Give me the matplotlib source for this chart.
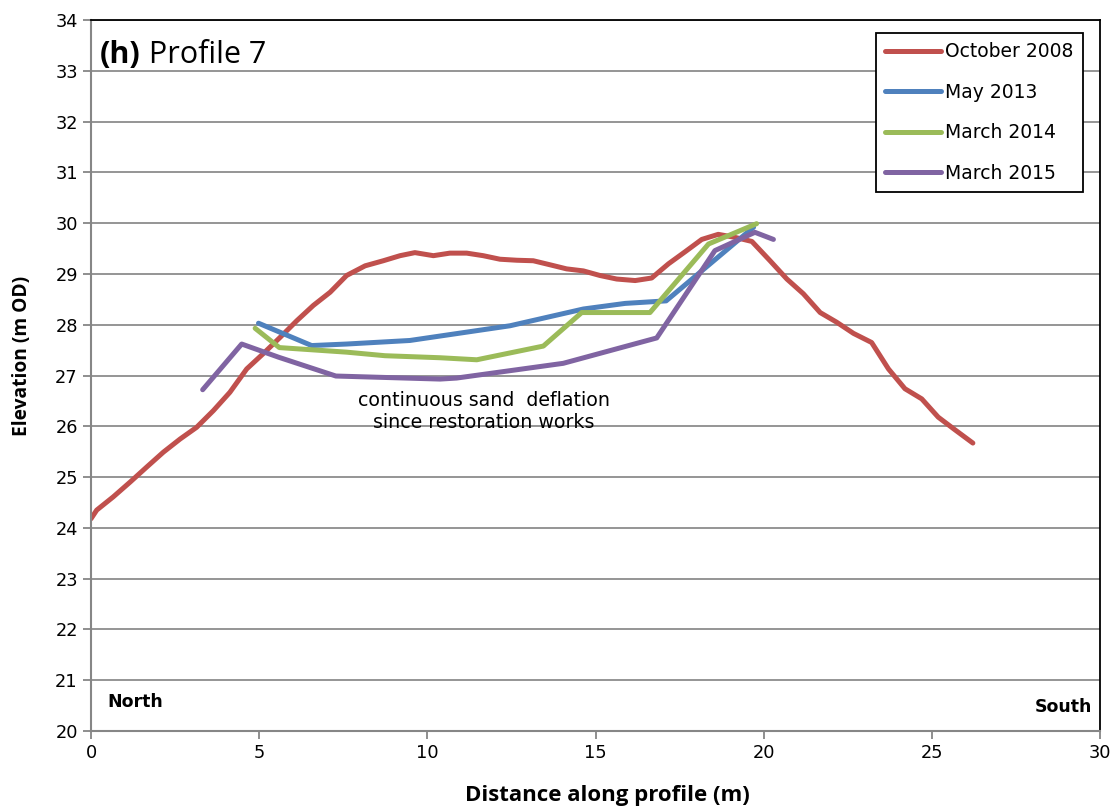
import matplotlib.pyplot as plt

# profile 7 elevation data (distance m, elevation m OD)
oct2008_x = [0.0, 0.17, 0.66, 1.16, 1.66, 2.15, 2.65, 3.14, 3.64, 4.13, 4.63, 5.12, 5.62, 6.12,
             6.61, 7.11, 7.60, 8.15, 8.69, 9.19, 9.63, 10.18, 10.67, 11.17, 11.66, 12.16, 12.66,
             13.15, 13.65, 14.14, 14.64, 15.13, 15.63, 16.18, 16.67, 17.17, 17.67, 18.16, 18.65,
             19.15, 19.65, 20.19, 20.69, 21.18, 21.68, 22.17, 22.67, 23.21, 23.71, 24.2, 24.7,
             25.19, 25.69, 26.22]
oct2008_y = [24.18, 24.35, 24.61, 24.90, 25.20, 25.49, 25.75, 25.98, 26.31, 26.67, 27.13, 27.43,
             27.75, 28.08, 28.38, 28.64, 28.97, 29.16, 29.26, 29.36, 29.42, 29.36, 29.41, 29.41,
             29.36, 29.29, 29.27, 29.26, 29.18, 29.10, 29.06, 28.97, 28.90, 28.87, 28.92, 29.20,
             29.44, 29.68, 29.78, 29.72, 29.64, 29.26, 28.90, 28.61, 28.24, 28.05, 27.83, 27.65,
             27.13, 26.74, 26.54, 26.18, 25.93, 25.67]

may2013_x = [4.98, 6.56, 7.6, 9.48, 12.46, 14.64, 15.88, 17.1, 19.7]
may2013_y = [28.03, 27.59, 27.62, 27.69, 27.98, 28.31, 28.42, 28.47, 29.92]

mar2014_x = [4.88, 5.6, 7.6, 8.74, 10.38, 11.47, 13.45, 14.59, 16.62, 18.36, 19.79]
mar2014_y = [27.93, 27.55, 27.46, 27.39, 27.35, 27.31, 27.58, 28.24, 28.24, 29.59, 29.99]

mar2015_x = [3.32, 4.48, 5.58, 7.28, 10.38, 10.87, 14.04, 16.82, 18.55, 19.74, 20.29]
mar2015_y = [26.72, 27.62, 27.36, 26.99, 26.93, 26.95, 27.24, 27.74, 29.46, 29.82, 29.68]

labels = ['October 2008', 'May 2013', 'March 2014', 'March 2015']
colors = ['#C0504D', '#4F81BD', '#9BBB59', '#8064A2']

plt.rcParams['font.family'] = ['DejaVu Sans']

fig = plt.figure(figsize=(11.18, 8.08), dpi=100)
ax = fig.add_axes([0.0814, 0.0953, 0.9025, 0.8799])

series = [(oct2008_x, oct2008_y), (may2013_x, may2013_y), (mar2014_x, mar2014_y), (mar2015_x, mar2015_y)]
for (xs, ys), lab, col in zip(series, labels, colors):
    ax.plot(xs, ys, color=col, lw=3.6, label=lab, solid_capstyle='round', solid_joinstyle='round')

ax.set_xlim(0, 30)
ax.set_ylim(20, 34)
ax.set_xticks(range(0, 31, 5))
ax.set_yticks(range(20, 35))
ax.tick_params(labelsize=12.8, colors='#868686', labelcolor='black', length=6, width=1.3)
ax.yaxis.grid(True, color='#8c8c8c', lw=1.3)
ax.set_axisbelow(True)

for side in ['left', 'bottom']:
    ax.spines[side].set_color('#868686')
    ax.spines[side].set_linewidth(1.5)
for side in ['top', 'right']:
    ax.spines[side].set_color('black')
    ax.spines[side].set_linewidth(1.3)

ax.set_xlabel('Distance along profile (m)', fontsize=16, fontweight='bold', family='Open Sans')
ax.xaxis.set_label_coords(0.512, -0.076)
ax.set_ylabel('Elevation (m OD)', fontsize=13.8, fontweight='bold', family='Open Sans')
ax.yaxis.set_label_coords(-0.058, 0.527)

# panel title
t = ax.text(0.009, 0.972, '(h)', transform=ax.transAxes, fontsize=22, fontweight='bold',
            family='Open Sans', va='top', ha='left')
ax.annotate(' Profile 7', xy=(1, 0), xycoords=t, fontsize=22, family='Open Sans', va='bottom', ha='left')

ax.text(11.67, 26.29, 'continuous sand  deflation\nsince restoration works', fontsize=13.7,
        ha='center', va='center')
ax.text(0.48, 20.58, 'North', fontsize=12.5, fontweight='bold', ha='left', va='center')
ax.text(29.76, 20.48, 'South', fontsize=12.5, fontweight='bold', ha='right', va='center')

leg = ax.legend(loc='upper right', bbox_to_anchor=(0.983, 0.982), borderaxespad=0, fontsize=13.5,
                handlelength=3.0, handletextpad=0.2, labelspacing=1.15, borderpad=0.5,
                fancybox=False, edgecolor='black', framealpha=1)
leg.get_frame().set_linewidth(1.3)

fig.savefig('out.png', dpi=100)
